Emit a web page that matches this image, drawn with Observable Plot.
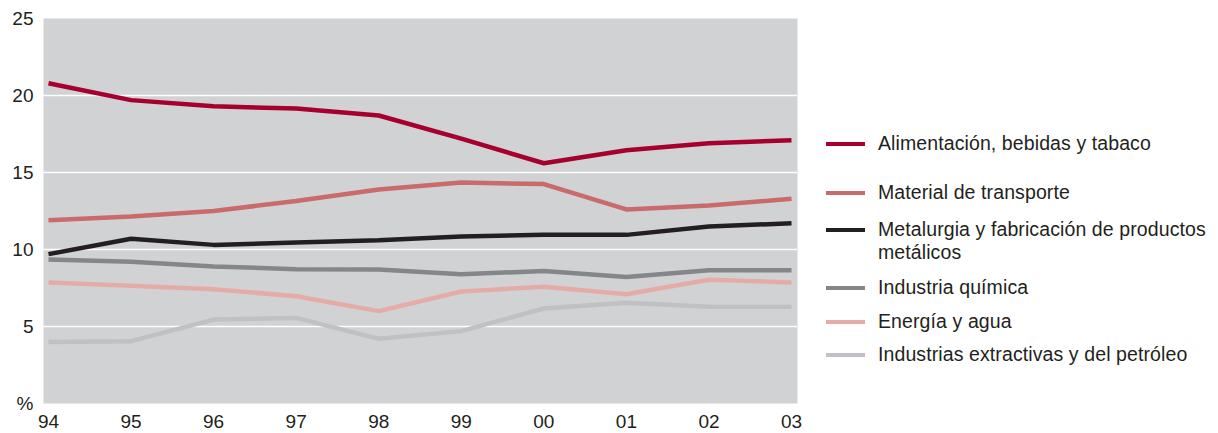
<!DOCTYPE html>
<html>
<head>
<meta charset="utf-8">
<script src="https://cdn.jsdelivr.net/npm/d3@7"></script>
<script src="https://cdn.jsdelivr.net/npm/@observablehq/plot@0.6"></script>
<style>
  html, body { margin: 0; padding: 0; background: #fff; }
  #wrap { position: relative; width: 1218px; height: 433px; font-family: "Liberation Sans", Arial, sans-serif; color: #231f20; }
  #legend { position: absolute; left: 0; top: 0; width: 1218px; height: 433px; pointer-events: none; }
  .row { position: absolute; left: 826px; display: flex; align-items: flex-start; }
  .sw { width: 39px; height: 4px; margin-right: 13px; flex: none; }
  .lab { font-size: 19.5px; line-height: 23px; white-space: nowrap; letter-spacing: 0.1px; }
</style>
</head>
<body>
<div id="wrap"><div id="chart"></div><div id="legend"></div></div>
<script>
const years = [1994, 1995, 1996, 1997, 1998, 1999, 2000, 2001, 2002, 2003];
const seriesNames = [
  "Alimentación, bebidas y tabaco",
  "Material de transporte",
  "Metalurgia y fabricación de productos metálicos",
  "Industria química",
  "Energía y agua",
  "Industrias extractivas y del petróleo"
];
const legendLabels = [
  ["Alimentación, bebidas y tabaco"],
  ["Material de transporte"],
  ["Metalurgia y fabricación de productos", "metálicos"],
  ["Industria química"],
  ["Energía y agua"],
  ["Industrias extractivas y del petróleo"]
];
const seriesColors = ["#a6002e", "#c96b6a", "#231f20", "#85868a", "#e5aca7", "#c0c1c4"];

const alimentacion = [20.8, 19.7, 19.3, 19.15, 18.7, 17.2, 15.6, 16.45, 16.9, 17.1];
const transporte   = [11.9, 12.15, 12.5, 13.15, 13.9, 14.35, 14.25, 12.6, 12.85, 13.3];
const metalurgia   = [9.7, 10.7, 10.3, 10.45, 10.6, 10.85, 10.95, 10.95, 11.5, 11.7];
const quimica      = [9.35, 9.2, 8.9, 8.72, 8.7, 8.4, 8.6, 8.22, 8.66, 8.66];
const energia      = [7.86, 7.64, 7.42, 6.97, 6.0, 7.27, 7.58, 7.1, 8.03, 7.86];
const extractivas  = [4.0, 4.05, 5.45, 5.56, 4.2, 4.7, 6.17, 6.54, 6.28, 6.28];

const yTicks = [0, 5, 10, 15, 20, 25];
const gridValues = [5, 10, 15, 20];

const allValues = [alimentacion, transporte, metalurgia, quimica, energia, extractivas];
const data = [];
allValues.forEach((vals, i) => vals.forEach((v, j) => data.push({series: seriesNames[i], year: years[j], value: v})));
// draw lightest first so the strong series stay on top
const drawOrder = [5, 4, 3, 2, 1, 0].map(i => seriesNames[i]);
data.sort((a, b) => drawOrder.indexOf(a.series) - drawOrder.indexOf(b.series));

const chart = Plot.plot({
  width: 1218,
  height: 433,
  marginLeft: 43,
  marginRight: 421,
  marginTop: 18,
  marginBottom: 30,
  style: { fontFamily: "'Liberation Sans', Arial, sans-serif", fontSize: "19px", color: "#231f20", background: "#fff", overflow: "visible" },
  x: { domain: [1994, 2003], insetLeft: 5, insetRight: 6 },
  y: { domain: [0, 25] },
  color: { domain: seriesNames, range: seriesColors },
  marks: [
    Plot.frame({ fill: "#d1d2d4", stroke: null }),
    Plot.ruleY(gridValues, { stroke: "#ffffff", strokeWidth: 1.5 }),
    Plot.lineY(data, { x: "year", y: "value", z: "series", stroke: "series", strokeWidth: 4.5, strokeLinejoin: "miter", strokeLinecap: "butt" }),
    Plot.axisX({ ticks: years, tickFormat: d => String(d).slice(2), tickSize: 0, tickPadding: 11, label: null, fontSize: 19 }),
    Plot.axisY({ ticks: yTicks, tickFormat: d => d === 0 ? "%" : String(d), tickSize: 0, tickPadding: 10, label: null, fontSize: 19 })
  ]
});
document.getElementById("chart").appendChild(chart);

// legend (positions in code only)
const rowTops = [132, 181, 218, 276, 310, 343];
const legend = document.getElementById("legend");
legendLabels.forEach((lines, i) => {
  const row = document.createElement("div");
  row.className = "row";
  row.style.top = rowTops[i] + "px";
  const sw = document.createElement("div");
  sw.className = "sw";
  sw.style.background = seriesColors[i];
  sw.style.marginTop = "9.5px";
  const lab = document.createElement("div");
  lab.className = "lab";
  lab.innerHTML = lines.map(s => s.replace(/&/g, "&amp;")).join("<br>");
  row.appendChild(sw);
  row.appendChild(lab);
  legend.appendChild(row);
});
</script>
</body>
</html>
